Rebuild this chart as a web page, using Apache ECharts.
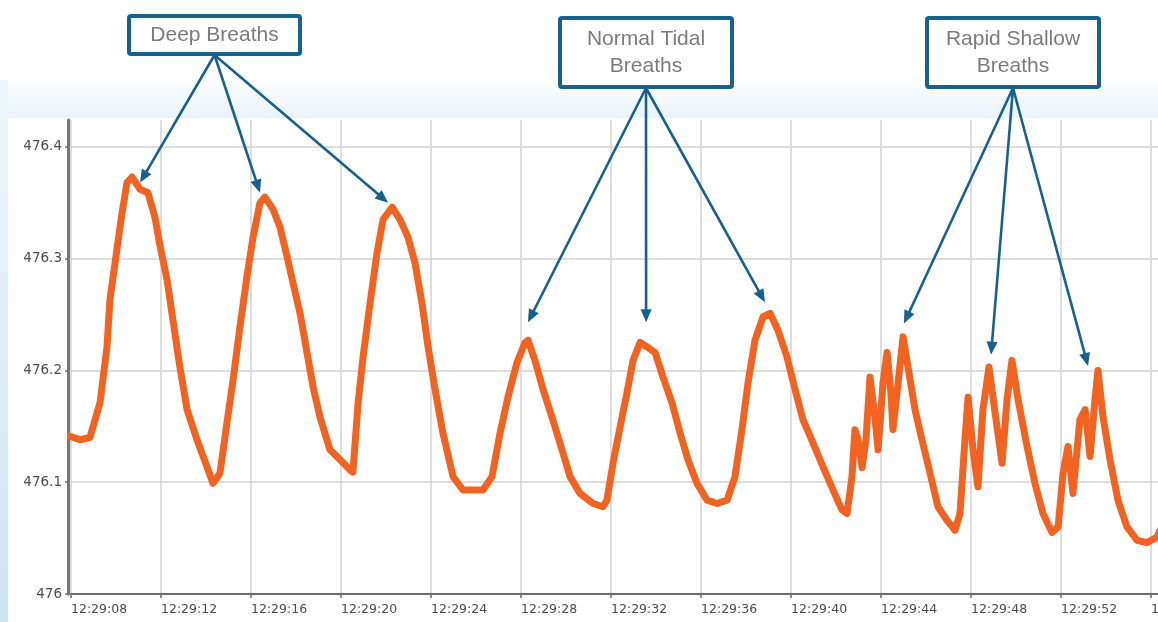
<!DOCTYPE html>
<html>
<head>
<meta charset="utf-8">
<title>Breathing pressure trace</title>
<script src="https://cdn.jsdelivr.net/npm/echarts@6/dist/echarts.min.js"></script>
<style>
  html, body { margin: 0; padding: 0; background: #ffffff; }
  #chart { width: 1158px; height: 622px; }
</style>
</head>
<body>
<div id="chart"></div>
<script>
// Pressure trace, seconds after 12:29:00
const times = [
  7.82, 8.40, 8.84, 9.29, 9.60, 9.73, 10.04, 10.27, 10.49, 10.71,
  11.07, 11.42, 11.73, 11.96, 12.27, 12.53, 12.84, 13.16, 13.60, 14.04,
  14.31, 14.62, 14.93, 15.20, 15.51, 15.82, 16.09, 16.40, 16.62, 16.98,
  17.29, 17.60, 17.87, 18.18, 18.49, 18.76, 19.07, 19.51, 19.96, 20.40,
  20.53, 20.76, 20.98, 21.29, 21.60, 21.87, 22.27, 22.62, 22.98, 23.29,
  23.60, 23.87, 24.18, 24.53, 24.98, 25.42, 25.87, 26.31, 26.71, 27.07,
  27.42, 27.82, 28.18, 28.31, 28.62, 28.98, 29.38, 29.73, 30.18, 30.62,
  31.20, 31.64, 31.82, 32.09, 32.40, 32.71, 32.98, 33.29, 33.60, 33.96,
  34.31, 34.71, 35.07, 35.42, 35.82, 36.27, 36.71, 37.16, 37.51, 37.82,
  38.09, 38.40, 38.76, 39.07, 39.42, 39.82, 40.18, 40.53, 40.98, 41.42,
  41.87, 42.27, 42.49, 42.71, 42.84, 42.98, 43.16, 43.33, 43.51, 43.73,
  43.87, 44.09, 44.27, 44.44, 44.53, 44.76, 44.98, 45.20, 45.51, 45.82,
  46.18, 46.53, 46.93, 47.29, 47.51, 47.73, 47.87, 48.09, 48.31, 48.53,
  48.80, 49.07, 49.38, 49.60, 49.82, 50.09, 50.49, 50.84, 51.20, 51.60,
  51.87, 52.09, 52.31, 52.53, 52.84, 53.07, 53.29, 53.51, 53.64, 53.87,
  54.18, 54.53, 54.93, 55.38, 55.82, 56.27, 56.40
];
const pressure = [
  476.142, 476.138, 476.140, 476.171, 476.221, 476.263, 476.308, 476.341, 476.368, 476.373,
  476.362, 476.359, 476.337, 476.311, 476.281, 476.245, 476.203, 476.165, 476.138, 476.114,
  476.099, 476.108, 476.153, 476.191, 476.239, 476.284, 476.319, 476.350, 476.355, 476.344,
  476.328, 476.302, 476.278, 476.251, 476.216, 476.185, 476.158, 476.129, 476.120, 476.111,
  476.109, 476.171, 476.212, 476.260, 476.305, 476.335, 476.346, 476.335, 476.319, 476.296,
  476.260, 476.221, 476.183, 476.144, 476.105, 476.093, 476.093, 476.093, 476.105, 476.144,
  476.176, 476.207, 476.225, 476.227, 476.209, 476.183, 476.158, 476.135, 476.105, 476.090,
  476.081, 476.078, 476.084, 476.117, 476.149, 476.180, 476.209, 476.225, 476.221, 476.216,
  476.194, 476.171, 476.144, 476.120, 476.099, 476.084, 476.081, 476.084, 476.105, 476.147,
  476.189, 476.227, 476.248, 476.251, 476.236, 476.212, 476.183, 476.156, 476.135, 476.114,
  476.093, 476.075, 476.072, 476.105, 476.147, 476.138, 476.113, 476.138, 476.194, 476.158,
  476.129, 476.189, 476.216, 476.180, 476.147, 476.189, 476.230, 476.203, 476.165, 476.138,
  476.108, 476.078, 476.066, 476.057, 476.072, 476.138, 476.176, 476.129, 476.096, 476.165,
  476.203, 476.162, 476.117, 476.174, 476.209, 476.174, 476.132, 476.099, 476.072, 476.055,
  476.060, 476.108, 476.132, 476.090, 476.156, 476.165, 476.123, 476.174, 476.200, 476.158,
  476.120, 476.084, 476.060, 476.048, 476.046, 476.051, 476.057
];

// Axis ranges (seconds after 12:29:00, pressure)
const timeRange = [8, 56.31];
const timeStep = 4;
const pressureRange = [476.0, 476.424];
const pressureStep = 0.1;

// Callouts: label lines and the peaks each one points at [seconds, pressure]
const calloutLabels = [
  ['Deep Breaths'],
  ['Normal Tidal', 'Breaths'],
  ['Rapid Shallow', 'Breaths']
];
const calloutTargets = [
  [[11.07, 476.368], [16.40, 476.359], [22.09, 476.350]],
  [[28.31, 476.243], [33.56, 476.243], [38.84, 476.261]],
  [[45.02, 476.242], [48.89, 476.214], [53.20, 476.204]]
];

function clockLabel(sec) {
  const s = Math.round(sec);
  return '12:29:' + (s < 10 ? '0' + s : String(s));
}

const FONT = "'Liberation Sans', Arial, sans-serif";
const TICK_FONT = "'DejaVu Sans', Verdana, sans-serif";
const chart = echarts.init(document.getElementById('chart'), null, { renderer: 'canvas' });

const option = {
  animation: false,
  backgroundColor: '#ffffff',
  grid: {
    left: 71, right: 0, top: 120, bottom: 28,
    containLabel: false,
    outerBoundsMode: 'none'
  },
  xAxis: {
    type: 'value',
    min: timeRange[0],
    max: timeRange[1],
    interval: timeStep,
    axisLine: { show: true, onZero: false, lineStyle: { color: '#6e6e6e', width: 2 } },
    axisTick: { show: true, length: 4, lineStyle: { color: '#6e6e6e', width: 1.5 } },
    axisLabel: {
      show: true,
      align: 'left',
      margin: 9,
      color: '#4d4d4d',
      fontFamily: TICK_FONT,
      fontSize: 12.5,
      showMaxLabel: false,
      hideOverlap: false,
      formatter: clockLabel
    },
    splitLine: { show: true, showMaxLine: false, lineStyle: { color: '#d2d2d2', width: 1.5 } }
  },
  yAxis: {
    type: 'value',
    min: pressureRange[0],
    max: pressureRange[1],
    interval: pressureStep,
    offset: 3,
    axisLine: { show: true, lineStyle: { color: '#767676', width: 3 } },
    axisTick: { show: true, length: 3, lineStyle: { color: '#6e6e6e', width: 1.5 } },
    axisLabel: {
      show: true,
      margin: 6,
      color: '#4d4d4d',
      fontFamily: TICK_FONT,
      fontSize: 13.5,
      showMaxLabel: false,
      padding: [0, 0, 8, 0]
    },
    splitLine: { show: true, showMaxLine: false, lineStyle: { color: '#d2d2d2', width: 1.5 } }
  },
  series: [{
    type: 'line',
    data: times.map((t, i) => [t, pressure[i]]),
    showSymbol: false,
    smooth: false,
    clip: true,
    lineStyle: { color: '#f26321', width: 7, join: 'round', cap: 'round' },
    z: 3
  }]
};
chart.setOption(option);

// Callout boxes and arrows
const boxes = [
  { x: 129, y: 16, w: 171, h: 38 },
  { x: 560, y: 18, w: 172, h: 69 },
  { x: 927, y: 18, w: 172, h: 69 }
];
const ARROW = '#17618f';

const graphics = [
  // light haze above the plot panel
  {
    type: 'rect', z: -5, silent: true,
    shape: { x: 0, y: 70, width: 1158, height: 48 },
    style: { fill: new echarts.graphic.LinearGradient(0, 0, 0, 1, [
      { offset: 0, color: 'rgba(236,244,250,0)' },
      { offset: 1, color: 'rgba(234,243,250,1)' }
    ]) }
  },
  // pale blue strip on the left edge
  {
    type: 'rect', z: -5, silent: true,
    shape: { x: 0, y: 80, width: 8, height: 542 },
    style: { fill: new echarts.graphic.LinearGradient(0, 0, 0, 1, [
      { offset: 0, color: '#eef6fb' },
      { offset: 1, color: '#cbe4f3' }
    ]) }
  }
];

boxes.forEach((b, i) => {
  const lines = calloutLabels[i];
  graphics.push({
    type: 'rect', z: 20,
    shape: { x: b.x, y: b.y, width: b.w, height: b.h, r: 2 },
    style: { fill: '#ffffff', stroke: ARROW, lineWidth: 4 }
  });
  const cx = b.x + b.w / 2;
  const lineGap = 27;
  const startY = b.y + b.h / 2 - (lines.length - 1) * lineGap / 2;
  lines.forEach((txt, k) => {
    graphics.push({
      type: 'text', z: 21,
      x: cx, y: startY + k * lineGap,
      style: {
        text: txt, fill: '#7b7b7b', font: '21px ' + FONT,
        align: 'center', verticalAlign: 'middle'
      }
    });
  });
  const ox = cx;
  const oy = b.y + b.h + 1;
  calloutTargets[i].forEach(pt => {
    const [tx, ty] = chart.convertToPixel({ gridIndex: 0 }, pt);
    const dx = tx - ox, dy = ty - oy;
    const len = Math.sqrt(dx * dx + dy * dy);
    const ux = dx / len, uy = dy / len;
    const headLen = 13, headHalf = 5.5;
    const bx = tx - ux * headLen, by = ty - uy * headLen;
    graphics.push({
      type: 'line', z: 19, silent: true,
      shape: { x1: ox, y1: oy, x2: bx + ux * 2, y2: by + uy * 2 },
      style: { stroke: ARROW, lineWidth: 2.6, lineCap: 'round' }
    });
    graphics.push({
      type: 'polygon', z: 19, silent: true,
      shape: { points: [
        [tx, ty],
        [bx - uy * headHalf, by + ux * headHalf],
        [bx + uy * headHalf, by - ux * headHalf]
      ] },
      style: { fill: ARROW }
    });
  });
});

chart.setOption({ graphic: graphics });
</script>
</body>
</html>
